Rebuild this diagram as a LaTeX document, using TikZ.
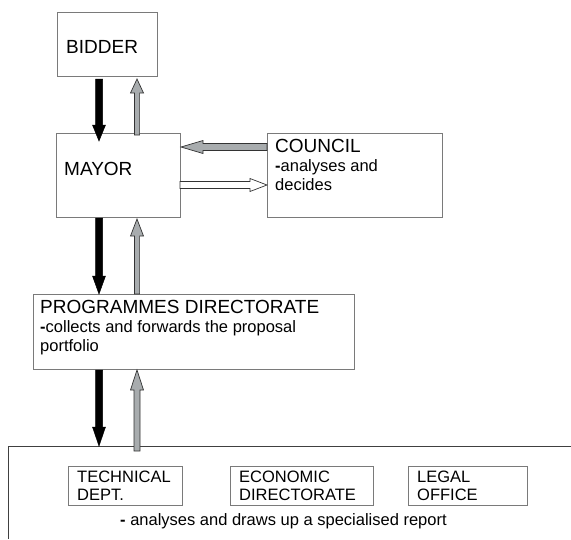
\documentclass[tikz,border=0pt]{standalone}
\usepackage{fontspec}
\setmainfont{Liberation Sans}
\usetikzlibrary{calc}
\definecolor{arrowgray}{HTML}{A8ACAE}
\definecolor{boxline}{HTML}{7A7A7A}
\definecolor{panelline}{HTML}{404040}
% block arrow: style, from, to, half shaft width, half head width, head length
\newcommand\blockarrow[6]{%
  \path[#1] let \p1=(#2), \p2=(#3),
    \n1={atan2(\y2-\y1,\x2-\x1)},
    \n2={veclen(\x2-\x1,\y2-\y1)-#6} in
    ($(\p1)+({\n1+90}:#4)$) --
    ($(\p1)+({\n1}:{\n2*1pt})+({\n1+90}:#4)$) --
    ($(\p1)+({\n1}:{\n2*1pt})+({\n1+90}:#5)$) --
    (\p2) --
    ($(\p1)+({\n1}:{\n2*1pt})+({\n1-90}:#5)$) --
    ($(\p1)+({\n1}:{\n2*1pt})+({\n1-90}:#4)$) --
    ($(\p1)+({\n1-90}:#4)$) -- cycle;}
\begin{document}
\begin{tikzpicture}[x=1pt,y=-1pt,
  box/.style={draw=boxline, line width=1pt, rectangle, inner sep=0pt, outer sep=0pt, anchor=north west},
  titletext/.style={anchor=base west, inner sep=0pt, font=\fontsize{19}{22}\selectfont},
  subtext/.style={anchor=base west, inner sep=0pt, align=left, font=\fontsize{16.5}{18.5}\selectfont},
  blackarrow/.style={fill=black, draw=black, line width=0.5pt},
  grayarrow/.style={fill=arrowgray, draw=black!80, line width=0.7pt},
  whitearrow/.style={fill=white, draw=black!80, line width=0.7pt}]
\useasboundingbox (0,0) rectangle (571,539);

% boxes
\node[box, minimum width=100pt, minimum height=64pt] (bidder) at (57,12) {};
\node[box, minimum width=124pt, minimum height=84pt] (mayor) at (56,133) {};
\node[box, minimum width=175pt, minimum height=84pt] (council) at (267,133) {};
\node[box, minimum width=321pt, minimum height=75pt] (prog) at (33,294) {};
\node[box, minimum width=114pt, minimum height=39pt] (tech) at (68,466) {};
\node[box, minimum width=143pt, minimum height=39pt] (econ) at (230,466) {};
\node[box, minimum width=119pt, minimum height=39pt] (legal) at (408,466) {};

% open panel
\coordinate (panelTL) at (8,446);
\coordinate (panelTR) at (571,446);
\coordinate (panelBL) at (8,539);
\draw[panelline, line width=1pt] (panelTR) -- (panelTL) -- (panelBL);

% texts (multi-line nodes: base = baseline of last line)
\node[titletext] (tbidder) at (66,53) {BIDDER};
\node[titletext] (tmayor) at (64,175) {MAYOR};
\node[titletext] (tcouncil) at (275,152) {COUNCIL};
\node[subtext] (scouncil) at (275,190) {\textbf{-}analyses and\\decides};
\node[titletext] (tprog) at (40,313) {PROGRAMMES DIRECTORATE};
\node[subtext] (sprog) at (40,351) {\textbf{-}collects and forwards the proposal\\portfolio};
\node[subtext, font=\fontsize{16.5}{18}\selectfont] (ttech) at (77,500) {TECHNICAL\\DEPT.};
\node[subtext, font=\fontsize{16.5}{18}\selectfont] (tecon) at (239,500) {ECONOMIC\\DIRECTORATE};
\node[subtext, font=\fontsize{16.5}{18}\selectfont] (tlegal) at (417,500) {LEGAL\\OFFICE};
\node[subtext] (treport) at (120,525) {\textbf{-} analyses and draws up a specialised report};

% arrow columns
\coordinate (xL) at (99,0);
\coordinate (xR) at (137,0);

% bidder <-> mayor
\blockarrow{blackarrow}{$(bidder.south -| xL)+(0,3)$}{$(mayor.north -| xL)+(0,8)$}{3.5pt}{6.5pt}{16pt}
\blockarrow{grayarrow}{$(mayor.north -| xR)+(0,2)$}{$(bidder.south -| xR)+(0,3)$}{2.6pt}{6.5pt}{14pt}

% council <-> mayor
\blockarrow{grayarrow}{$(council.north west)+(0,14)$}{$(mayor.north east)+(1,14)$}{3.5pt}{6.5pt}{22pt}
\blockarrow{whitearrow}{$(mayor.north east)+(0,52)$}{$(council.north west)+(0,52)$}{3.5pt}{6.5pt}{17pt}

% mayor <-> programmes
\blockarrow{blackarrow}{$(mayor.south -| xL)+(0,1)$}{prog.north -| xL}{3.5pt}{6.5pt}{18pt}
\blockarrow{grayarrow}{prog.north -| xR}{$(mayor.south -| xR)+(0,2)$}{2.6pt}{6.5pt}{17pt}

% programmes <-> departments
\blockarrow{blackarrow}{$(prog.south -| xL)+(0,1)$}{panelTL -| xL}{3.5pt}{6.5pt}{19pt}
\blockarrow{grayarrow}{$(panelTL -| xR)+(0,5)$}{$(prog.south -| xR)+(0,1)$}{3pt}{6.5pt}{20pt}
\end{tikzpicture}
\end{document}
